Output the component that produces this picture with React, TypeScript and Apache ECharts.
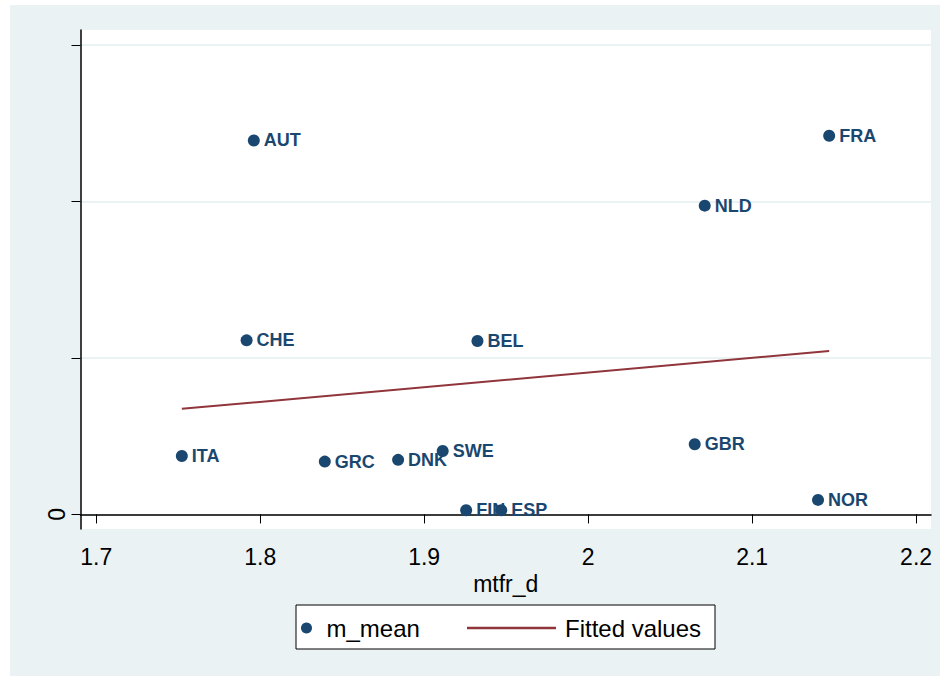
import React, { useEffect, useRef } from "react";
import * as echarts from "echarts";

const countries = ["ITA", "CHE", "AUT", "GRC", "DNK", "SWE", "FIN", "BEL", "ESP", "GBR", "NLD", "NOR", "FRA"];
const mtfrD = [1.7522, 1.7917, 1.7961, 1.8394, 1.8841, 1.9113, 1.9256, 1.9325, 1.947, 2.065, 2.0711, 2.1402, 2.147];
const mMean = [0.374, 1.113, 2.391, 0.338, 0.349, 0.406, 0.027, 1.109, 0.027, 0.449, 1.974, 0.093, 2.421];
const fittedX = [1.7522, 2.147];
const fittedY = [0.675, 1.045];
const xTicks = [1.7, 1.8, 1.9, 2, 2.1, 2.2];
const yTicks = [0, 1, 2, 3];
const yLabels = [0];

const FONT = "'Liberation Sans', Arial, sans-serif";

export default function App() {
  const ref = useRef<HTMLDivElement>(null);
  useEffect(() => {
    if (!ref.current) return;
    const chart = echarts.init(ref.current, undefined, { renderer: "svg" });
    const scatterData = countries.map((c, i) => ({ name: c, value: [mtfrD[i], mMean[i]] }));
    const lineData = fittedX.map((x, i) => [x, fittedY[i]]);
    chart.setOption({
      animation: false,
      textStyle: { fontFamily: FONT },
      graphic: [
        {
          type: "rect",
          z: -100,
          shape: { x: 10, y: 5, width: 930, height: 671 },
          style: { fill: "#eaf2f3" },
          silent: true,
        },
        {
          type: "rect",
          z: 1,
          shape: { x: 296, y: 605, width: 419, height: 44 },
          style: { fill: "#ffffff", stroke: "#000000", lineWidth: 1 },
          silent: true,
        },
      ],
      grid: {
        left: 80.5,
        right: 9,
        top: 30,
        bottom: 147,
        show: true,
        backgroundColor: "#ffffff",
        borderWidth: 0,
        outerBoundsMode: "none",
      },
      xAxis: {
        type: "value",
        min: 1.6904,
        max: 2.2091,
        name: "mtfr_d",
        nameLocation: "middle",
        nameGap: 38,
        nameTextStyle: { fontSize: 23, color: "#000", fontFamily: FONT },
        axisLine: { show: true, lineStyle: { color: "#000", width: 1.5 } },
        axisTick: { show: true, customValues: xTicks, length: 9, lineStyle: { color: "#000", width: 1 } },
        axisLabel: {
          customValues: xTicks,
          fontSize: 23,
          color: "#000",
          margin: 16,
          fontFamily: FONT,
          formatter: (v: number) => String(Math.round(v * 10) / 10),
        },
        splitLine: { show: false },
      },
      yAxis: {
        type: "value",
        min: -0.093,
        max: 3.097,
        axisLine: { show: true, lineStyle: { color: "#000", width: 1.5 } },
        axisTick: { show: true, customValues: yTicks, length: 9, lineStyle: { color: "#000", width: 1 } },
        axisLabel: {
          customValues: yLabels,
          fontSize: 23,
          color: "#000",
          margin: 12,
          rotate: 90,
          fontFamily: FONT,
          formatter: (v: number) => String(v),
        },
        splitLine: { show: true, lineStyle: { color: "#eaf2f3", width: 2 } },
      },
      legend: [
        {
          data: ["m_mean"],
          left: 296,
          top: 611,
          icon: "circle",
          itemWidth: 30,
          itemHeight: 11,
          textStyle: { fontSize: 24, color: "#000", fontFamily: FONT },
          selectedMode: false,
        },
        {
          data: [{ name: "Fitted values", icon: "rect" }],
          left: 462,
          top: 611,
          itemWidth: 89,
          itemHeight: 2.5,
          textStyle: { fontSize: 24, color: "#000", fontFamily: FONT, padding: [0, 0, 0, 4] },
          selectedMode: false,
        },
      ],
      series: [
        {
          name: "Fitted values",
          type: "line",
          data: lineData,
          symbol: "none",
          showSymbol: false,
          lineStyle: { color: "#90353b", width: 2 },
          itemStyle: { color: "#90353b" },
          z: 2,
        },
        {
          name: "m_mean",
          type: "scatter",
          data: scatterData,
          symbolSize: 12,
          itemStyle: { color: "#1a476f", opacity: 1 },
          label: {
            show: true,
            position: "right",
            distance: 4,
            formatter: (p: any) => p.name,
            fontSize: 18,
            fontWeight: "bold",
            color: "#1a476f",
            fontFamily: FONT,
          },
          z: 3,
        },
      ],
    });
    return () => chart.dispose();
  }, []);
  return (
    <div
      ref={ref}
      style={{ position: "absolute", left: 0, top: 0, width: 940, height: 676, background: "#ffffff" }}
    />
  );
}
